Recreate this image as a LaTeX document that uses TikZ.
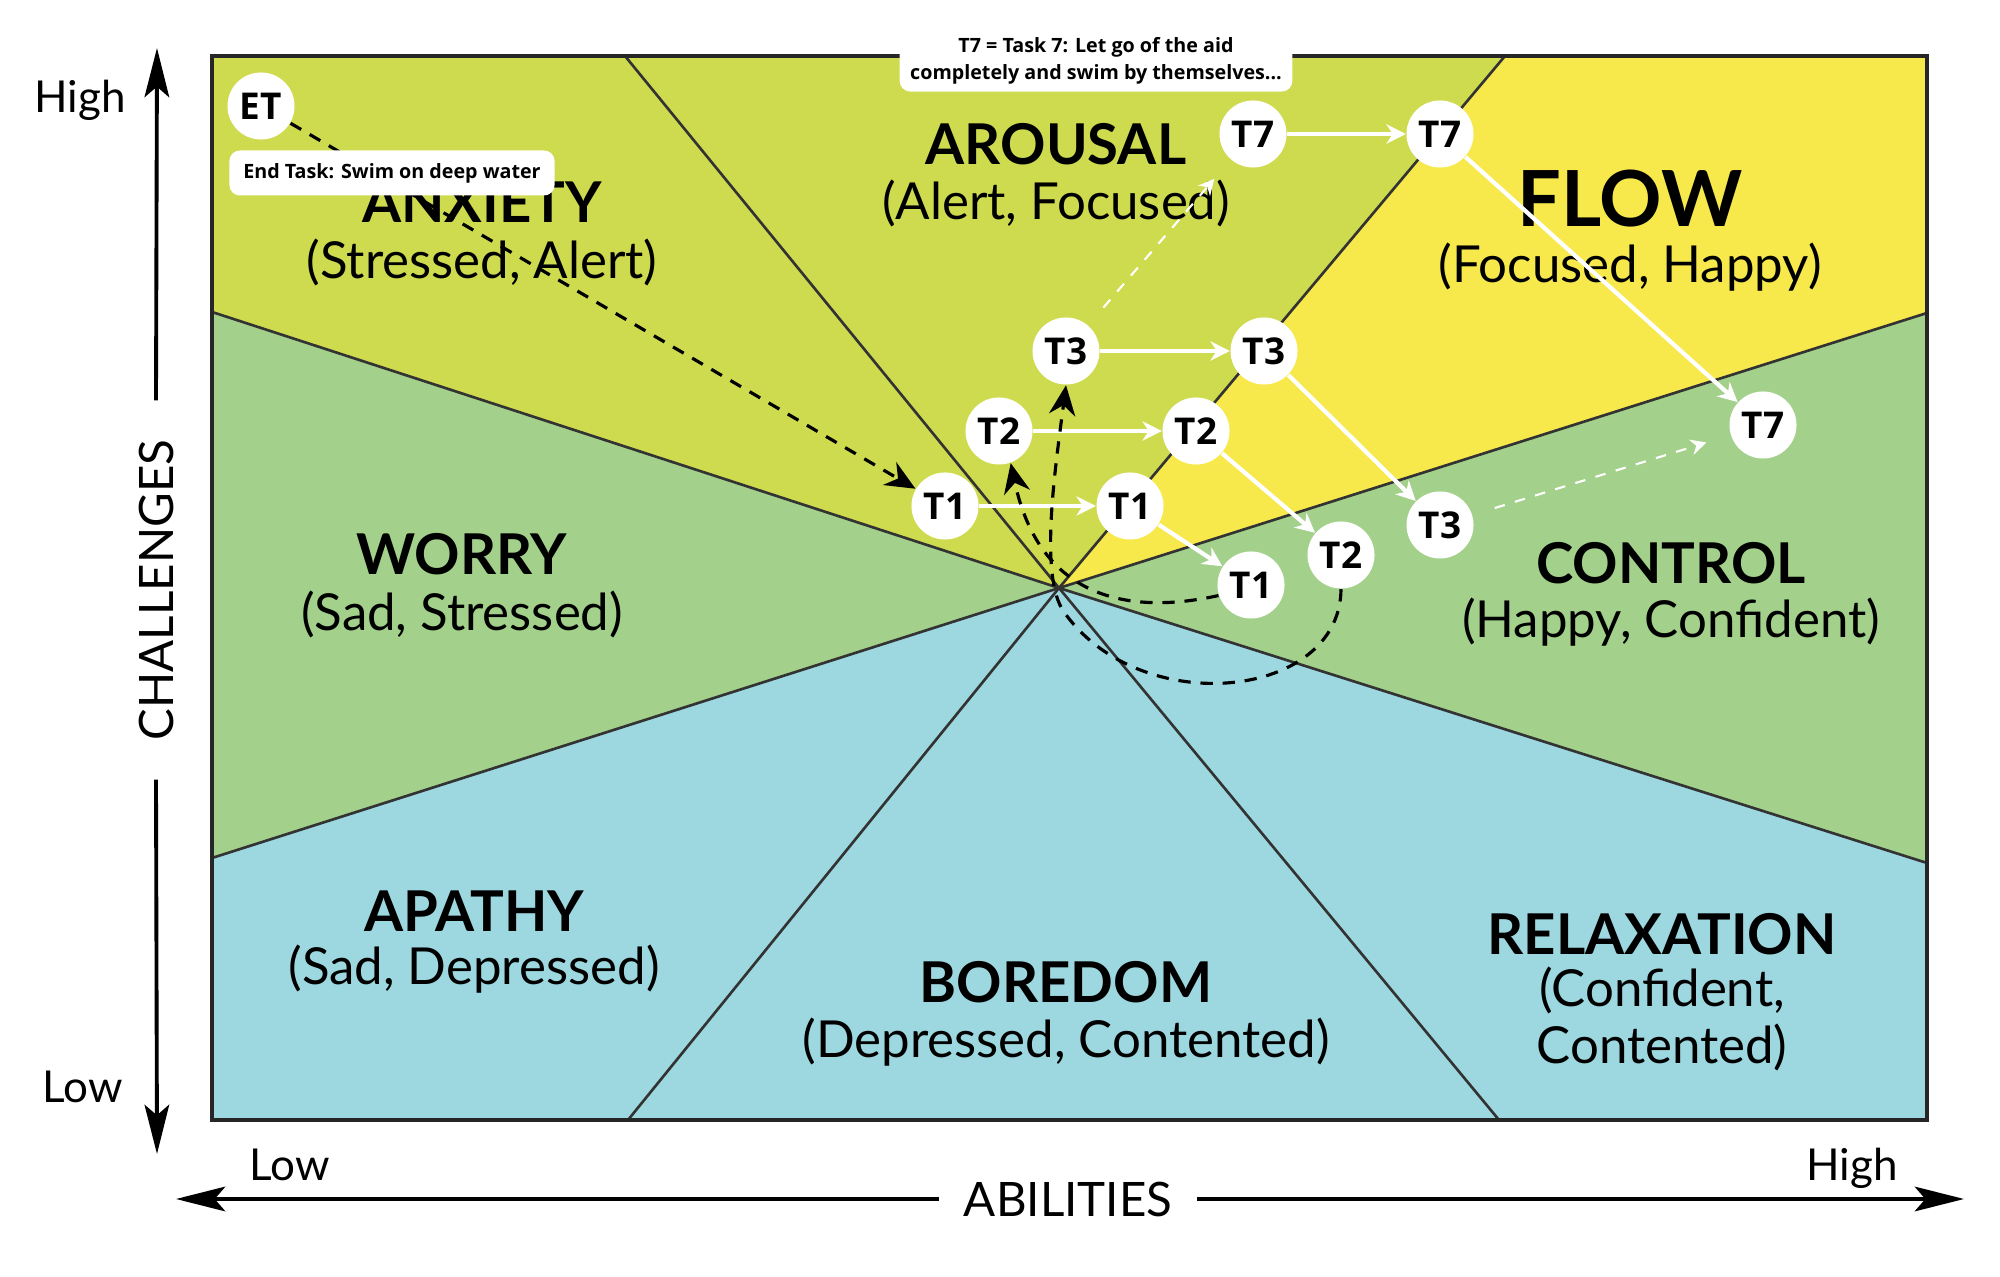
\documentclass[tikz,border=0pt]{standalone}
\usepackage{fontspec}
\setmainfont{Lato}
\newfontfamily\notefont{Open Sans}
\usepackage{tikz}
\usetikzlibrary{arrows.meta,positioning}
\definecolor{zonelime}{HTML}{CFDB4E}
\definecolor{zoneyellow}{HTML}{F7E94B}
\definecolor{zonegreen}{HTML}{A3D18B}
\definecolor{zoneblue}{HTML}{9DD8E0}

\begin{document}
\begin{tikzpicture}[x=0.01cm, y=-0.01cm,
  zoneline/.style={draw=black!80, line width=0.75pt},
  zonetitle/.style={font=\fontsize{16}{18}\selectfont\bfseries, inner sep=0pt},
  zonemood/.style={font=\fontsize{14.5}{16}\selectfont, align=center, inner sep=0pt},
  task/.style={circle, fill=white, minimum size=0.67cm, inner sep=0pt,
    font=\notefont\bfseries\fontsize{10.5}{12}\selectfont},
  note/.style={rectangle, rounded corners=3pt, fill=white, align=center,
    font=\notefont\bfseries\fontsize{5.6}{7.6}\selectfont, inner xsep=3pt, inner ysep=2pt},
  stepline/.style={-{Stealth[length=5.5pt, width=5.5pt]}, white, line width=1.2pt},
  hintline/.style={-{Stealth[length=4.5pt, width=4.5pt]}, white, dashed, line width=0.6pt,
    shorten <=0.23cm, shorten >=0.25cm},
  pathline/.style={-{Stealth[length=8.5pt, width=7.5pt]}, black, line width=0.9pt,
    dash pattern=on 3.5pt off 2.8pt},
  axis/.style={line width=1.1pt, -{Stealth[length=14pt, width=7pt, inset=3pt]}},
  axislabel/.style={font=\fontsize{13.5}{16}\selectfont},
  ticklabel/.style={font=\fontsize{12.5}{15}\selectfont, inner sep=0pt}
]
\useasboundingbox (0,0) rectangle (2000,1277);
\fill[white] (0,0) rectangle (2000,1277);
\coordinate (C) at (1059,588);
\fill[zonelime] (212,56) -- (625,56) -- (C) -- (212,312) -- cycle;
\fill[zonelime] (625,56) -- (1505,56) -- (C) -- cycle;
\fill[zoneyellow] (1505,56) -- (1927,56) -- (1927,313) -- (C) -- cycle;
\fill[zonegreen] (212,312) -- (C) -- (212,858) -- cycle;
\fill[zonegreen] (1927,313) -- (1927,863) -- (C) -- cycle;
\fill[zoneblue] (212,858) -- (C) -- (628,1120) -- (212,1120) -- cycle;
\fill[zoneblue] (628,1120) -- (C) -- (1499,1120) -- cycle;
\fill[zoneblue] (1499,1120) -- (C) -- (1927,863) -- (1927,1120) -- cycle;
\foreach \p in {(625,56),(1505,56),(212,312),(212,858),(1927,313),(1927,863),(628,1120),(1499,1120)} {\draw[zoneline] (C) -- \p;}
\draw[black!85, line width=1.2pt] (212,56) rectangle (1927,1120);

\node[zonetitle] (anxiety) at (482,202) {ANXIETY};
\node[zonemood] (anxietymood) at (482,262) {(Stressed, Alert)};
\node[zonetitle] (arousal) at (1056,144) {AROUSAL};
\node[zonemood] (arousalmood) at (1056,203) {(Alert, Focused)};
\node[zonetitle, font=\fontsize{22}{26}\selectfont\bfseries] (flow) at (1630,199) {FLOW};
\node[zonemood] (flowmood) at (1630,267) {(Focused, Happy)};
\node[zonetitle] (worry) at (462,554) {WORRY};
\node[zonemood] (worrymood) at (462,614) {(Sad, Stressed)};
\node[zonetitle] (control) at (1671,563) {CONTROL};
\node[zonemood] (controlmood) at (1671,622) {(Happy, Confident)};
\node[zonetitle] (apathy) at (474,911) {APATHY};
\node[zonemood] (apathymood) at (474,969) {(Sad, Depressed)};
\node[zonetitle] (boredom) at (1066,982) {BOREDOM};
\node[zonemood] (boredommood) at (1066,1042) {(Depressed, Contented)};
\node[zonetitle] (relaxation) at (1662,934) {RELAXATION};
\node[zonemood] (relaxationmood) at (1662,1019) {(Confident,\\Contented)};

\node[axislabel, rotate=90, inner xsep=11pt] (challenges) at (156,590) {CHALLENGES};
\node[axislabel, inner xsep=7pt] (abilities) at (1068,1199) {ABILITIES};
\coordinate (ytop) at (157,48);
\coordinate (ybot) at (157,1154);
\coordinate (xleft) at (176,1199);
\coordinate (xright) at (1964,1199);
\draw[axis] (challenges.east) -- (ytop);
\draw[axis] (challenges.west) -- (ybot);
\draw[axis] (abilities.west) -- (xleft);
\draw[axis] (abilities.east) -- (xright);
\node[ticklabel] (yhigh) at (80,100) {High};
\node[ticklabel] (ylow) at (83,1087) {Low};
\node[ticklabel] (xlow) at (290,1165) {Low};
\node[ticklabel] (xhigh) at (1852,1168) {High};

\node[task] (et) at (261,106) {ET};
\node[task] (t1a) at (945,506) {T1};
\node[task] (t1b) at (1130,506) {T1};
\node[task] (t1c) at (1251,585) {T1};
\node[task] (t2a) at (999,431) {T2};
\node[task] (t2b) at (1196,431) {T2};
\node[task] (t2c) at (1341,555) {T2};
\node[task] (t3a) at (1066,351) {T3};
\node[task] (t3b) at (1264,351) {T3};
\node[task] (t3c) at (1440,525) {T3};
\node[task] (t7a) at (1253,134) {T7};
\node[task] (t7b) at (1440,134) {T7};
\node[task] (t7c) at (1763,425) {T7};
\foreach \a/\b in {t1a/t1b, t1b/t1c, t2a/t2b, t2b/t2c, t3a/t3b, t3b/t3c, t7a/t7b, t7b/t7c} {\draw[stepline] (\a) -- (\b);}
\draw[hintline] (t3a) -- (t7a);
\draw[hintline] (t3c) -- (t7c);
\coordinate (turn) at (1064,612);
\draw[pathline] (et) -- (t1a);
\draw[pathline] (t1c.198) .. controls (1130,615) and (1040,600) .. (t2a.-70);
\draw[pathline] (t2c.south) .. controls (1340,700) and (1140,720) .. (turn)
  .. controls (1039,577) and (1055,470) .. (t3a.south);

\node[note, minimum width=3.25cm, minimum height=0.45cm] (endnote) at (392,173) {End Task: Swim on deep water};
\node[note, minimum width=3.8cm, minimum height=0.61cm] (t7note) at (1096,61) {T7 = Task 7: Let go of the aid\\completely and swim by themselves...};
\end{tikzpicture}
\end{document}
